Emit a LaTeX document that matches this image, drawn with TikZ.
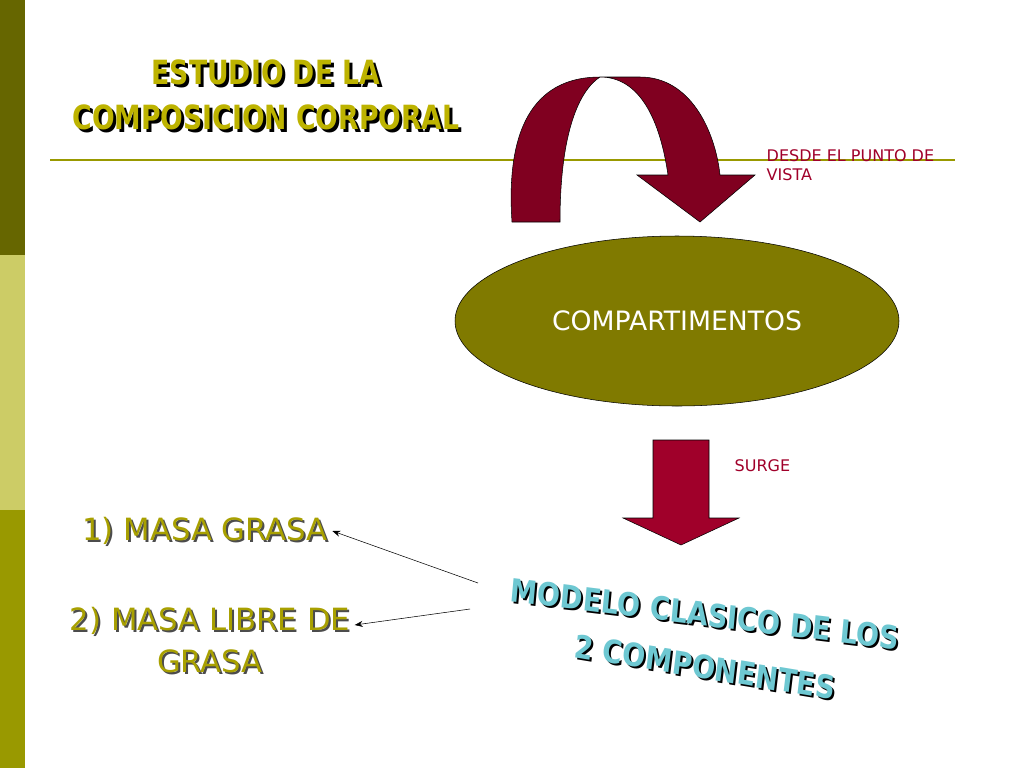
\documentclass[tikz,border=0pt]{standalone}
\usepackage{fontspec}
\setmainfont{DejaVu Sans}
\usetikzlibrary{shapes.geometric}
\usetikzlibrary{arrows.meta}
\definecolor{oliveD}{HTML}{666600}
\definecolor{oliveL}{HTML}{CCCC66}
\definecolor{oliveM}{HTML}{999900}
\definecolor{ovalC}{HTML}{807A00}
\definecolor{redA}{HTML}{A0002A}
\definecolor{redB}{HTML}{800020}
\definecolor{titleC}{HTML}{BDB300}
\definecolor{itemC}{HTML}{A8A000}
\definecolor{wordC}{HTML}{6EC8D2}
\begin{document}
\begin{tikzpicture}[x=0.75pt,y=-0.75pt,
	shadowtxt/.style={font=\bfseries\fontsize{25}{30}\selectfont,text=titleC,align=center,xscale=0.8},
	itemtxt/.style={font=\fontsize{23}{31}\selectfont,text=itemC,align=center},
	modeltxt/.style={font=\bfseries\fontsize{24}{28}\selectfont,text=wordC,xscale=0.85},
	smalltxt/.style={font=\fontsize{12}{14}\selectfont,text=redA,align=left,anchor=west}]
	\useasboundingbox (0,0) rectangle (1024,768);
	% side bar and rule
	\fill[oliveD] (0,0) rectangle (25,255);
	\fill[oliveL] (0,255) rectangle (25,510);
	\fill[oliveM] (0,510) rectangle (25,768);
	\draw[oliveM,line width=1.5pt] (50,160) -- (955,160);
	% title
	\node[shadowtxt,text=black] at (269,98) {ESTUDIO DE LA\\[4pt]COMPOSICION CORPORAL};
	\node[shadowtxt] (title) at (266,95) {ESTUDIO DE LA\\[4pt]COMPOSICION CORPORAL};
	% curved arrow
	\fill[redB,draw=black,line width=0.4pt] (512,222) .. controls (505,120) and (540,77) .. (600,77)
		-- (640,77) .. controls (690,77) and (715,130) .. (720,175) -- (755,175) -- (700,222)
		-- (637,175) -- (668,175) .. controls (660,120) and (640,77) .. (600,77)
		.. controls (580,90) and (560,130) .. (560,222) -- cycle;
	\node[smalltxt] (desde) at (762,165) {DESDE EL PUNTO DE\\VISTA};
	% oval
	\node[ellipse,fill=ovalC,draw=black,minimum width=444pt*0.75,minimum height=170pt*0.75,
		text=white,font=\fontsize{20}{24}\selectfont] (comp) at (677,321) {COMPARTIMENTOS};
	% down arrow
	\fill[redA,draw=black,line width=0.4pt] (653,440) -- (709,440) -- (709,518) -- (739,518)
		-- (681,545) -- (623,518) -- (653,518) -- cycle;
	\node[smalltxt] (surge) at (730,466) {SURGE};
	% items
	\node[itemtxt,text=black!70] at (207,533) {1) MASA GRASA};
	\node[itemtxt] (grasa) at (205,531) {1) MASA GRASA};
	\node[itemtxt,text=black!70] at (212,642) {2) MASA LIBRE DE\\GRASA};
	\node[itemtxt] (libre) at (210,640) {2) MASA LIBRE DE\\GRASA};
	% model
	\node[modeltxt,text=black,rotate=-6] at (707,616) {MODELO CLASICO DE LOS};
	\node[modeltxt,rotate=-6] (modelo) at (705,614) {MODELO CLASICO DE LOS};
	\node[modeltxt,text=black,rotate=-8] at (707,669) {2 COMPONENTES};
	\node[modeltxt,rotate=-8] (comps) at (705,667) {2 COMPONENTES};
	\coordinate (m1) at (478,583);
	\coordinate (m2) at (470,609);
	\draw[-{Stealth[length=6pt]}] (m1) -- (grasa.east);
	\draw[-{Stealth[length=6pt]}] (m2) -- (libre.north east |- 0,625);
\end{tikzpicture}
\end{document}
